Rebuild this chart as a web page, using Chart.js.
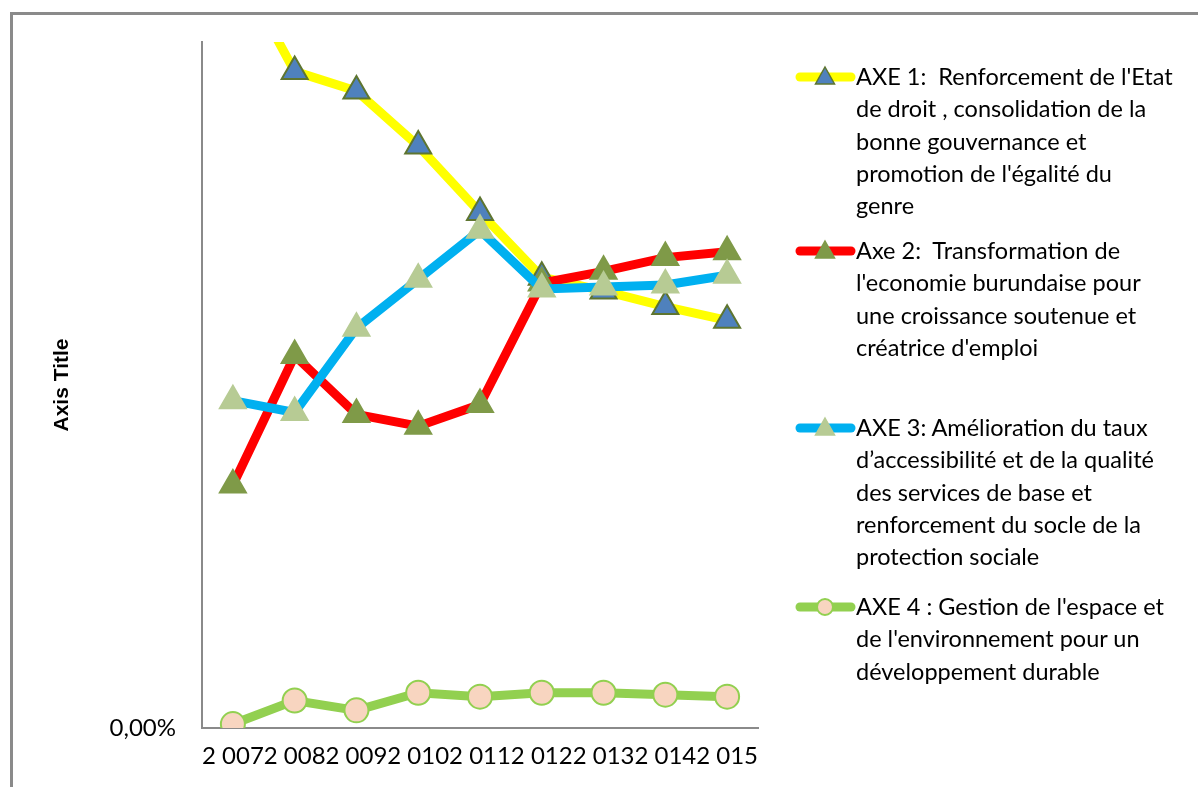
<!DOCTYPE html>
<html>
<head>
<meta charset="utf-8">
<script src="https://cdn.jsdelivr.net/npm/chart.js@4/dist/chart.umd.min.js"></script>
<style>
  html, body { margin: 0; padding: 0; background: #fff; }
  body { width: 1198px; height: 787px; position: relative; overflow: hidden; }
  .frame {
    position: absolute; left: 10px; top: 12px; right: -10px; bottom: -10px;
    border-top: 3px solid #8a8a8a; border-left: 3px solid #8a8a8a;
  }
  #wrap { position: absolute; left: 0; top: 0; width: 1198px; height: 787px; }
  .legend { position: absolute; left: 0; top: 0; font-family: Lato, sans-serif; font-size: 23.5px; color: #000; }
  .item { position: absolute; left: 795px; white-space: pre; line-height: 32.3px; }
  .item svg { position: absolute; left: 0; top: 3px; }
  .item .txt { position: absolute; left: 61px; top: 0; }
</style>
</head>
<body>
<div class="frame"></div>
<div id="wrap"><canvas id="chart" width="1198" height="787"></canvas></div>
<div class="legend" id="legend"></div>
<script>
// categories and values (fractions, shown as %)
const years = ['2 007', '2 008', '2 009', '2 010', '2 011', '2 012', '2 013', '2 014', '2 015'];
const axe1 = [0.393, 0.335, 0.325, 0.297, 0.263, 0.230, 0.223, 0.215, 0.208];
const axe2 = [0.124, 0.190, 0.160, 0.154, 0.165, 0.227, 0.233, 0.240, 0.243];
const axe3 = [0.167, 0.161, 0.204, 0.229, 0.254, 0.224, 0.225, 0.226, 0.231];
const axe4 = [0.002, 0.014, 0.009, 0.018, 0.016, 0.018, 0.018, 0.017, 0.016];
const yTicks = [0];

const names = [
    ["AXE 1:  Renforcement de l'Etat", "de droit , consolidation de la", "bonne gouvernance et", "promotion de l'égalité du", "genre"],
    ["Axe 2:  Transformation de", "l'economie burundaise pour", "une croissance soutenue et", "créatrice d'emploi"],
    ["AXE 3: Amélioration du taux", "d’accessibilité et de la qualité", "des services de base et", "renforcement du socle de la", "protection sociale"],
    ["AXE 4 : Gestion de l'espace et", "de l'environnement pour un", "développement durable"]
];
const legendTops = [60, 234, 411, 590];

const styles = [
    { line: '#FFFF00', fill: '#4F81BD', edge: '#5E7530', shape: 'triangle' },
    { line: '#FF0000', fill: '#7F9A48', edge: '#7F9A48', shape: 'triangle' },
    { line: '#00B0F0', fill: '#B7CB94', edge: '#B7CB94', shape: 'triangle' },
    { line: '#92D050', fill: '#F8D5C0', edge: '#92D050', shape: 'circle' }
];

const series = [axe1, axe2, axe3, axe4];

const datasets = series.map((vals, i) => ({
    label: names[i].join(' '),
    data: vals,
    borderColor: styles[i].line,
    borderWidth: 9,
    pointStyle: styles[i].shape,
    pointRadius: styles[i].shape === 'circle' ? 12 : 15,
    pointBackgroundColor: styles[i].fill,
    pointBorderColor: styles[i].edge,
    pointBorderWidth: 2,
    tension: 0,
    order: 4 - i
}));

new Chart(document.getElementById('chart'), {
    type: 'line',
    data: { labels: years, datasets: datasets },
    options: {
        responsive: false,
        animation: false,
        devicePixelRatio: 1,
        layout: { padding: { left: 0, right: 440, top: 42, bottom: 0 } },
        plugins: { legend: { display: false }, tooltip: { enabled: false } },
        scales: {
            x: {
                offset: true,
                grid: { display: false, drawTicks: false },
                border: { display: true, color: '#8a8a8a', width: 2 },
                ticks: {
                    autoSkip: false, maxRotation: 0, minRotation: 0, padding: 14,
                    color: '#000', font: { family: 'Lato', size: 24 }
                },
                afterFit: (scale) => { scale.height = 59; }
            },
            y: {
                min: 0, max: 0.35,
                grid: { display: false, drawTicks: false },
                border: { display: true, color: '#8a8a8a', width: 2 },
                afterBuildTicks: (scale) => { scale.ticks = yTicks.map(v => ({ value: v })); },
                ticks: {
                    padding: 26, color: '#000', font: { family: 'Lato', size: 24 },
                    callback: (v) => (v * 100).toFixed(2).replace('.', ',') + '%'
                },
                title: {
                    display: true, text: 'Axis Title', color: '#000',
                    font: { family: 'Liberation Sans', size: 21, weight: 'bold' },
                    padding: { top: 50, bottom: 0 }
                },
                afterFit: (scale) => { scale.width = 202; }
            }
        }
    }
});

// legend
const legend = document.getElementById('legend');
names.forEach((lines, i) => {
    const st = styles[i];
    const item = document.createElement('div');
    item.className = 'item';
    item.style.top = legendTops[i] + 'px';
    const marker = st.shape === 'circle'
        ? `<circle cx="30" cy="14" r="8" fill="${st.fill}" stroke="${st.edge}" stroke-width="2"/>`
        : `<polygon points="30,4 39.5,21 20.5,21" fill="${st.fill}" stroke="${st.edge}" stroke-width="1.5"/>`;
    item.innerHTML = `<svg width="62" height="28"><line x1="5" y1="14" x2="56" y2="14" stroke="${st.line}" stroke-width="9" stroke-linecap="round"/>${marker}</svg><div class="txt">${lines.join('\n')}</div>`;
    legend.appendChild(item);
});
</script>
</body>
</html>
